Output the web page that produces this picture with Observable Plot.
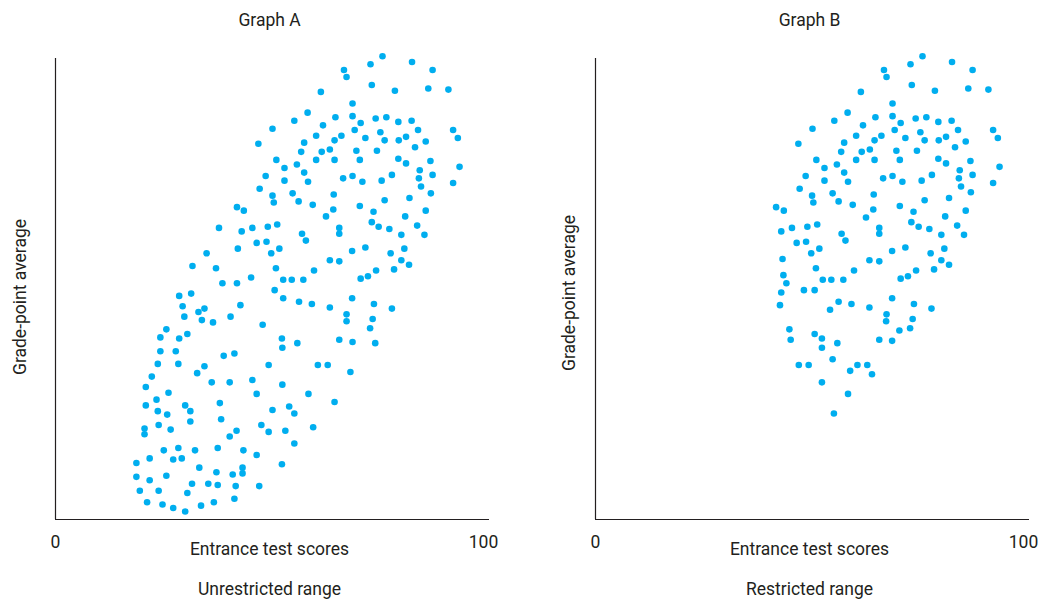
<!DOCTYPE html>
<html><head><meta charset="utf-8">
<script src="https://cdn.jsdelivr.net/npm/d3@7"></script>
<script src="https://cdn.jsdelivr.net/npm/@observablehq/plot@0.6"></script>
<style>
body{margin:0;background:#fff;}
#wrap{position:relative;width:1039px;height:600px;overflow:hidden;background:#fff;}
#wrap svg{position:absolute;top:0;overflow:visible;}
</style></head><body><div id="wrap"></div>
<script>
// Students present in both graphs (upper part of the cloud)
const sharedScore=[50.7,47.4,51.6,53.5,49.1,53.5,47.7,
76.4,83.3,67.4,88.1,73.6,68.0,73.9,87.1,91.8,62.0,79.3,69.4,58.9,55.8,65.4,69.4,62.5,71.3,74.8,77.3,80.1,83.2,84.7,92.9,94.0,69.9,75.9,58.1,60.9,65.2,66.8,72.4,76.9,80.2,81.9,86.5,84.0,57.4,62.2,64.1,70.3,75.1,56.4,60.9,65.2,71.1,80.1,81.9,87.6,94.4,58.1,59.0,67.2,69.4,71.7,76.2,78.6,85.1,84.9,88.1,92.9,85.4];
const sharedGpa=[3.39,3.26,3.12,3.05,2.98,2.94,2.87,
4.02,3.97,3.90,3.90,3.95,3.84,3.77,3.74,3.73,3.71,3.72,3.61,3.53,3.46,3.49,3.50,3.42,3.44,3.48,3.49,3.45,3.46,3.38,3.38,3.31,3.38,3.36,3.27,3.33,3.29,3.33,3.31,3.29,3.29,3.32,3.28,3.23,3.19,3.19,3.21,3.20,3.20,3.08,3.12,3.12,3.12,3.13,3.09,3.11,3.06,3.01,2.93,2.96,2.98,2.93,2.94,2.99,3.03,2.96,2.99,2.92,2.89];

// Graph A (unrestricted range), remaining points
const aScore=[50.7,51.0,42.4,44.0,38.2,43.5,46.0,49.6,51.8,47.0,49.3,42.6,50.4,52.3,35.3,32.0,37.5,51.5,39.0,42.4,45.7,53.2,51.2,53.2,28.9,31.7,29.7,33.4,34.8,43.2,30.1,34.2,36.8,40.9,48.4,25.9,24.5,28.9,30.8,52.9,
55.4,65.0,82.7,87.7,56.8,60.1,64.9,63.2,71.1,74.3,76.9,81.7,86.5,73.9,75.5,78.0,80.8,84.5,86.2,66.3,66.3,57.6,58.5,69.3,72.4,78.3,81.5,80.8,82.6,79.1,64.1,66.3,60.4,55.2,57.9,71.3,73.0,74.9,56.9,59.9,64.1,69.3,74.4,78.6,68.0,68.0,74.1,73.5,66.3,
53.0,24.5,28.1,39.3,41.8,23.9,28.7,34.8,33.1,49.8,22.5,21.1,36.5,40.7,46.0,53.0,26.4,47.0,23.6,21.1,30.3,31.5,38.4,23.9,26.1,31.5,38.7,50.7,54.6,24.1,26.9,20.8,20.8,42.3,40.7,48.1,49.8,53.7,25.3,28.7,32.6,37.9,43.9,47.0,22.0,27.5,29.5,18.9,33.6,37.6,43.7,43.7,41.4,52.9,18.9,22.0,25.9,31.9,35.7,37.9,42.1,47.6,19.7,24.1,30.8,41.8,21.4,25.0,27.5,30.3,34.0,37.0,
56.5,69.4,74.7,61.3,63.6,68.9,59.1,65.2,55.8,60.2,55.8];
const aGpa=[2.81,2.75,2.71,2.68,2.53,2.50,2.53,2.54,2.56,2.40,2.41,2.35,2.31,2.35,2.31,2.20,2.18,2.18,2.05,2.05,2.10,2.08,1.99,1.92,1.94,1.96,1.85,1.80,1.83,1.86,1.76,1.73,1.71,1.76,1.69,1.65,1.58,1.57,1.61,1.57,
2.83,2.82,2.79,2.83,2.76,2.73,2.69,2.63,2.72,2.67,2.77,2.63,2.68,2.58,2.54,2.52,2.47,2.55,2.47,2.53,2.48,2.48,2.42,2.33,2.36,2.31,2.35,2.25,2.21,2.17,2.25,2.24,2.16,2.08,2.08,2.09,2.11,2.16,1.89,1.87,1.84,1.92,1.87,1.83,1.78,1.72,1.74,1.66,1.56,
1.49,1.46,1.46,1.42,1.44,1.35,1.35,1.33,1.27,1.34,1.24,1.15,1.19,1.19,1.21,1.17,1.10,1.09,1.04,0.99,0.99,0.94,1.01,0.94,0.91,0.85,0.87,0.95,0.98,0.82,0.78,0.79,0.74,0.77,0.72,0.82,0.76,0.77,0.60,0.62,0.60,0.62,0.60,0.56,0.53,0.52,0.53,0.49,0.45,0.41,0.45,0.40,0.39,0.48,0.37,0.34,0.38,0.31,0.31,0.30,0.29,0.29,0.25,0.25,0.23,0.18,0.15,0.13,0.10,0.07,0.12,0.15,
1.53,1.54,1.53,1.34,1.34,1.28,1.09,1.02,0.92,0.80,0.66];

// Graph B (restricted range), remaining points
const bScore=[50.6,50.9,55.4,56.8,60.1,65.0,64.9,63.2,42.2,44.0,43.4,45.9,49.5,51.8,57.5,58.4,47.0,49.2,50.4,52.3,43.7,51.5,43.9,44.6,43.4,43.1,48.7,51.2,53.1,55.1,57.9,60.4,64.0,66.3,69.3,72.4,66.3,66.3,71.1,74.3,76.9,82.6,87.7,86.5,81.7,73.8,75.5,78.0,80.8,84.5,86.1,81.5,78.3,80.8,82.6,79.1,74.9,73.0,71.3,69.3,74.4,78.5,64.0,59.8,56.8,54.8,68.0,
67.9,74.1,45.3,45.6,51.2,52.9,52.9,56.5,55.4,47.5,49.8,59.5,61.2,63.5,64.6,52.9,59.0,55.7,66.3,69.3,71.0,73.5];
const bGpa=[2.81,2.75,2.83,2.76,2.73,2.82,2.69,2.62,2.71,2.68,2.50,2.53,2.54,2.56,2.48,2.42,2.40,2.41,2.31,2.35,2.26,2.18,2.12,2.05,1.97,1.86,1.99,1.99,2.08,2.08,2.08,2.16,2.25,2.24,2.33,2.36,2.53,2.48,2.72,2.67,2.77,2.79,2.84,2.68,2.63,2.58,2.54,2.52,2.47,2.55,2.47,2.35,2.31,2.25,2.21,2.17,2.16,2.11,2.09,1.92,1.87,1.83,1.84,1.87,1.89,1.82,1.78,
1.72,1.74,1.65,1.56,1.61,1.57,1.49,1.53,1.39,1.34,1.34,1.29,1.34,1.34,1.26,1.19,1.09,0.92,1.56,1.55,1.64,1.66];

const xTickValues=[0,100];
const xTickLabels=["0","100"];
const xAxisLabel="Entrance test scores";
const yAxisLabel="Grade-point average";
const titles=["Graph A","Graph B"];
const captions=["Unrestricted range","Restricted range"];

const ink="#231f20";
const dotColor="#00aeef";

function rows(xs, ys){ return xs.map((x,i)=>({score:x, gpa:ys[i]})); }

const charts=[
  {title:titles[0], caption:captions[0], data:rows(sharedScore,sharedGpa).concat(rows(aScore,aGpa)),
   left:0, width:520, marginRight:31, yDx:-35.5, yDy:8},
  {title:titles[1], caption:captions[1], data:rows(sharedScore,sharedGpa).concat(rows(bScore,bGpa)),
   left:540, width:499, marginRight:10, yDx:-26.3, yDy:4}
];

const txt={fill:ink, fontSize:17.5, lineAnchor:"middle", textAnchor:"middle"};

const wrap=document.getElementById("wrap");
for(const c of charts){
  const svg=Plot.plot({
    width:c.width, height:600,
    marginLeft:55, marginRight:c.marginRight, marginTop:58, marginBottom:81,
    x:{domain:[0,101.4], axis:null},
    y:{domain:[0,4], axis:null},
    style:{fontFamily:"Roboto, 'Open Sans', sans-serif", fontSize:"17px", color:ink, background:"transparent"},
    marks:[
      Plot.ruleX([0],{y1:0, y2:4, stroke:ink, strokeWidth:1.2}),
      Plot.ruleY([0],{x1:0, x2:101.4, stroke:ink, strokeWidth:1.2}),
      Plot.dot(c.data,{x:"score", y:"gpa", r:3.3, fill:dotColor, stroke:null}),
      Plot.text(xTickValues,{x:d=>d, frameAnchor:"bottom", dy:23, text:(d,i)=>xTickLabels[i], ...txt}),
      Plot.text([xAxisLabel],{frameAnchor:"bottom", dx:-3, dy:30, ...txt}),
      Plot.text([c.caption],{frameAnchor:"bottom", dx:-3, dy:70, ...txt}),
      Plot.text([c.title],{frameAnchor:"top", dx:-3, dy:-38, ...txt}),
      Plot.text([yAxisLabel],{frameAnchor:"left", rotate:-90, dx:c.yDx, dy:c.yDy, ...txt})
    ]
  });
  svg.style.left=c.left+"px";
  wrap.appendChild(svg);
}
</script></body></html>
